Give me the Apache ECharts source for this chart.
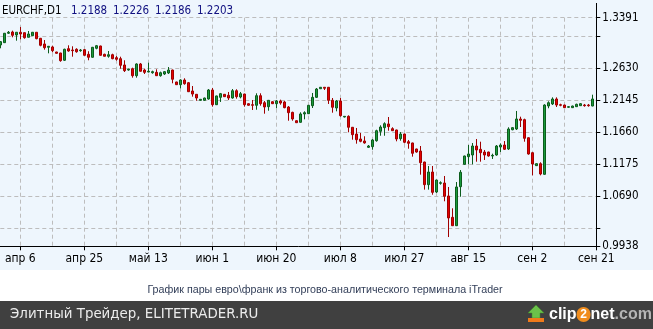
<!DOCTYPE html>
<html><head><meta charset="utf-8">
<script src="https://cdn.jsdelivr.net/npm/echarts@6/dist/echarts.min.js"></script>
<style>html,body{margin:0;padding:0;background:#fff}#c{width:653px;height:329px}</style>
</head><body><div id="c"></div>
<script>
// ---- DATA (EURCHF, D1, 2011) ----
const dates = [
'2011-03-31','2011-04-01','2011-04-03','2011-04-04','2011-04-05','2011-04-06','2011-04-07','2011-04-08','2011-04-10','2011-04-11',
'2011-04-12','2011-04-13','2011-04-14','2011-04-15','2011-04-17','2011-04-18','2011-04-19','2011-04-20','2011-04-21','2011-04-22',
'2011-04-24','2011-04-25','2011-04-26','2011-04-27','2011-04-28','2011-04-29','2011-05-01','2011-05-02','2011-05-03','2011-05-04',
'2011-05-05','2011-05-06','2011-05-08','2011-05-09','2011-05-10','2011-05-11','2011-05-12','2011-05-13','2011-05-15','2011-05-16',
'2011-05-17','2011-05-18','2011-05-19','2011-05-20','2011-05-22','2011-05-23','2011-05-24','2011-05-25','2011-05-26','2011-05-27',
'2011-05-29','2011-05-30','2011-05-31','2011-06-01','2011-06-02','2011-06-03','2011-06-05','2011-06-06','2011-06-07','2011-06-08',
'2011-06-09','2011-06-10','2011-06-12','2011-06-13','2011-06-14','2011-06-15','2011-06-16','2011-06-17','2011-06-19','2011-06-20',
'2011-06-21','2011-06-22','2011-06-23','2011-06-24','2011-06-26','2011-06-27','2011-06-28','2011-06-29','2011-06-30','2011-07-01',
'2011-07-03','2011-07-04','2011-07-05','2011-07-06','2011-07-07','2011-07-08','2011-07-10','2011-07-11','2011-07-12','2011-07-13',
'2011-07-14','2011-07-15','2011-07-17','2011-07-18','2011-07-19','2011-07-20','2011-07-21','2011-07-22','2011-07-24','2011-07-25',
'2011-07-26','2011-07-27','2011-07-28','2011-07-29','2011-07-31','2011-08-01','2011-08-02','2011-08-03','2011-08-04','2011-08-05',
'2011-08-07','2011-08-08','2011-08-09','2011-08-10','2011-08-11','2011-08-12','2011-08-14','2011-08-15','2011-08-16','2011-08-17',
'2011-08-18','2011-08-19','2011-08-21','2011-08-22','2011-08-23','2011-08-24','2011-08-25','2011-08-26','2011-08-28','2011-08-29',
'2011-08-30','2011-08-31','2011-09-01','2011-09-02','2011-09-04','2011-09-05','2011-09-06','2011-09-07','2011-09-08','2011-09-09',
'2011-09-11','2011-09-12','2011-09-13','2011-09-14','2011-09-15','2011-09-16','2011-09-18','2011-09-19','2011-09-20','2011-09-21'];

const open = [
1.2979,1.3014,1.3156,1.3175,1.3130,1.3171,1.3165,1.3095,1.3119,1.3171,
1.3080,1.2994,1.2944,1.2949,1.2873,1.2858,1.2748,1.2923,1.2903,1.2914,
1.2893,1.2908,1.2838,1.2793,1.2929,1.2964,1.2838,1.2808,1.2832,1.2787,
1.2772,1.2677,1.2601,1.2621,1.2515,1.2692,1.2601,1.2571,1.2560,1.2566,
1.2515,1.2541,1.2556,1.2601,1.2420,1.2379,1.2450,1.2409,1.2284,1.2234,
1.2143,1.2143,1.2163,1.2299,1.2077,1.2188,1.2234,1.2219,1.2178,1.2288,
1.2193,1.2238,1.2092,1.2077,1.2068,1.2213,1.2107,1.2047,1.2122,1.2092,
1.2133,1.2118,1.2042,1.1961,1.1835,1.1811,1.1937,1.1941,1.2062,1.2188,
1.2318,1.2340,1.2340,1.2143,1.2027,1.2133,1.1891,1.1901,1.1736,1.1634,
1.1559,1.1529,1.1433,1.1443,1.1533,1.1675,1.1730,1.1786,1.1715,1.1695,
1.1564,1.1634,1.1518,1.1499,1.1408,1.1377,1.1211,1.0869,1.1060,1.0758,
1.0889,1.0894,1.0698,1.0376,1.0249,1.0838,1.1176,1.1292,1.1317,1.1453,
1.1403,1.1362,1.1362,1.1302,1.1317,1.1438,1.1468,1.1408,1.1699,1.1710,
1.1861,1.1851,1.1578,1.1352,1.1156,1.1186,1.1025,1.2057,1.2088,1.2163,
1.2077,1.2072,1.2038,1.2032,1.2047,1.2062,1.2072,1.2072,1.2057];

const close = [
1.3029,1.3156,1.3171,1.3125,1.3171,1.3145,1.3089,1.3145,1.3171,1.3074,
1.2974,1.2938,1.2959,1.2893,1.2853,1.2742,1.2914,1.2888,1.2893,1.2877,
1.2903,1.2823,1.2793,1.2944,1.2968,1.2823,1.2808,1.2832,1.2772,1.2763,
1.2672,1.2591,1.2612,1.2515,1.2692,1.2582,1.2566,1.2582,1.2576,1.2515,
1.2560,1.2576,1.2601,1.2461,1.2379,1.2450,1.2394,1.2273,1.2238,1.2178,
1.2158,1.2178,1.2299,1.2077,1.2209,1.2243,1.2198,1.2178,1.2288,1.2198,
1.2243,1.2077,1.2068,1.2068,1.2213,1.2092,1.2042,1.2143,1.2092,1.2133,
1.2102,1.2032,1.1956,1.1861,1.1805,1.1937,1.1956,1.2068,1.2188,1.2314,
1.2340,1.2325,1.2143,1.2038,1.2133,1.1911,1.1901,1.1736,1.1624,1.1548,
1.1524,1.1499,1.1453,1.1544,1.1684,1.1740,1.1790,1.1745,1.1684,1.1559,
1.1634,1.1509,1.1494,1.1343,1.1362,1.1201,1.0869,1.1060,1.0753,1.0939,
1.0899,1.0693,1.0366,1.0249,1.0834,1.1056,1.1302,1.1332,1.1453,1.1393,
1.1352,1.1317,1.1302,1.1312,1.1453,1.1468,1.1403,1.1710,1.1730,1.1861,
1.1841,1.1569,1.1332,1.1181,1.1186,1.1030,1.2072,1.2107,1.2163,1.2072,
1.2068,1.2032,1.2047,1.2057,1.2083,1.2092,1.2062,1.2062,1.2163];

const high = [
1.3039,1.3160,1.3190,1.3195,1.3175,1.3251,1.3166,1.3190,1.3175,1.3171,
1.3085,1.3054,1.2964,1.2968,1.2876,1.2860,1.2923,1.2974,1.2959,1.2929,
1.2918,1.2918,1.2884,1.2949,1.2979,1.2968,1.2847,1.2888,1.2847,1.2812,
1.2802,1.2748,1.2621,1.2636,1.2702,1.2707,1.2621,1.2711,1.2591,1.2612,
1.2576,1.2586,1.2646,1.2606,1.2424,1.2461,1.2476,1.2420,1.2359,1.2238,
1.2163,1.2183,1.2314,1.2329,1.2213,1.2254,1.2238,1.2269,1.2314,1.2310,
1.2269,1.2243,1.2098,1.2148,1.2249,1.2249,1.2133,1.2148,1.2128,1.2148,
1.2153,1.2137,1.2057,1.1971,1.1840,1.1962,1.1977,1.2072,1.2254,1.2329,
1.2344,1.2344,1.2344,1.2178,1.2148,1.2178,1.1906,1.1916,1.1740,1.1725,
1.1649,1.1600,1.1468,1.1559,1.1699,1.1766,1.1811,1.1891,1.1736,1.1699,
1.1664,1.1639,1.1544,1.1503,1.1412,1.1453,1.1216,1.1151,1.1151,1.0944,
1.0919,1.1000,1.0834,1.0512,1.0909,1.1090,1.1307,1.1468,1.1498,1.1559,
1.1518,1.1393,1.1367,1.1337,1.1468,1.1493,1.1528,1.1736,1.1736,1.1982,
1.1896,1.1866,1.1584,1.1358,1.1191,1.1207,1.2083,1.2128,1.2188,1.2188,
1.2092,1.2077,1.2053,1.2062,1.2092,1.2102,1.2088,1.2088,1.2228];

const low = [
1.2929,1.3009,1.3145,1.3095,1.3044,1.3065,1.3074,1.3095,1.3114,1.3065,
1.2959,1.2908,1.2853,1.2868,1.2847,1.2726,1.2737,1.2877,1.2802,1.2862,
1.2877,1.2817,1.2748,1.2787,1.2914,1.2817,1.2808,1.2787,1.2763,1.2742,
1.2621,1.2571,1.2591,1.2485,1.2485,1.2576,1.2541,1.2566,1.2545,1.2510,
1.2500,1.2526,1.2541,1.2400,1.2375,1.2324,1.2379,1.2269,1.2198,1.2137,
1.2137,1.2137,1.2153,1.2047,1.2072,1.2118,1.2193,1.2148,1.2168,1.2168,
1.2173,1.2047,1.2062,1.1997,1.2001,1.2062,1.1941,1.1986,1.2087,1.2023,
1.2077,1.2023,1.1835,1.1835,1.1801,1.1805,1.1856,1.1937,1.2027,1.2178,
1.2314,1.2299,1.2088,1.1956,1.1977,1.1896,1.1884,1.1660,1.1548,1.1488,
1.1509,1.1488,1.1423,1.1397,1.1518,1.1608,1.1608,1.1684,1.1680,1.1524,
1.1533,1.1494,1.1412,1.1292,1.1352,1.1020,1.0794,1.0794,1.0717,1.0743,
1.0869,1.0618,1.0078,1.0244,1.0244,1.0687,1.1171,1.1176,1.1176,1.1216,
1.1216,1.1242,1.1292,1.1257,1.1307,1.1362,1.1393,1.1393,1.1690,1.1695,
1.1740,1.1518,1.1322,1.1010,1.1151,1.1010,1.1020,1.2023,1.2072,1.2042,
1.2053,1.2027,1.2032,1.2027,1.2042,1.2057,1.2047,1.2047,1.2053];

const priceLabels = [1.3391, 1.2630, 1.2145, 1.1660, 1.1175, 1.0690, 0.9938];
const priceTicks  = [1.3391, 1.3115, 1.2630, 1.2145, 1.1660, 1.1175, 1.0690, 1.0205, 0.9938];
const monthNames = ['янв','фев','мар','апр','май','июн','июл','авг','сен','окт','ноя','дек'];
const headerSymbol = 'EURCHF,D1';
const headerValues = ['1.2188','1.2226','1.2186','1.2203'];
const captionText = 'График пары евро\\франк из торгово-аналитического терминала iTrader';
const footerText = 'Элитный Трейдер, ELITETRADER.RU';

// ---- CHART ----
const FONT = "'Liberation Sans Narrow','DejaVu Sans Condensed',sans-serif";
const candles = dates.map((d, i) => open[i] == null ? '-' : [open[i], close[i], low[i], high[i]]);
const labelEvery = (i) => (i - 5) % 16 === 0;
const gridEvery = (i) => (i - 5) % 8 === 0 && i < dates.length - 1;
const fmtDate = (v) => { const p = v.split('-'); return monthNames[+p[1] - 1] + ' ' + (+p[2]); };

const chart = echarts.init(document.getElementById('c'), null, {renderer: 'canvas'});
const headerX = [71, 113, 155, 197];
chart.setOption({
  backgroundColor: '#ffffff',
  animation: false,
  grid: {left: 0.3, right: 56.7, top: 17.7, bottom: 82.7, containLabel: false},
  xAxis: {
    type: 'category', data: dates, boundaryGap: false,
    axisLine: {show: true, lineStyle: {color: '#000', width: 1}},
    axisTick: {show: true, interval: labelEvery, length: 4, lineStyle: {color: '#000'}},
    axisLabel: {interval: labelEvery, formatter: fmtDate, fontFamily: FONT, fontSize: 12, color: '#000', margin: 7},
    splitLine: {show: true, interval: gridEvery, lineStyle: {color: '#bdbdbd', type: [4, 3], width: 1}}
  },
  yAxis: {
    type: 'value', position: 'right', min: priceLabels[priceLabels.length - 1], max: priceLabels[0],
    axisLine: {show: true, lineStyle: {color: '#000'}},
    axisTick: {show: true, length: 4, customValues: priceTicks, lineStyle: {color: '#000'}},
    axisLabel: {customValues: priceLabels, formatter: (v) => v.toFixed(4), fontFamily: FONT, fontSize: 11.5, color: '#000', margin: 6},
    splitLine: {show: true, lineStyle: {color: '#bdbdbd', type: [4, 3], width: 1}}
  },
  series: [{
    type: 'candlestick', data: candles, barWidth: 3,
    itemStyle: {color: '#1a9a3c', color0: '#e30000', borderColor: '#0c5c1c', borderColor0: '#a00000', borderWidth: 1}
  }],
  graphic: [
    {type: 'rect', z: -10, silent: true, shape: {x: 0, y: 0, width: 653, height: 270}, style: {fill: '#eef6fd'}},
    {type: 'rect', z: -10, silent: true, shape: {x: 0, y: 301, width: 653, height: 28}, style: {fill: '#404040'}},
    {type: 'line', silent: true, shape: {x1: 596.5, y1: 3, x2: 596.5, y2: 18}, style: {stroke: '#000', lineWidth: 1}},
    {type: 'text', silent: true, x: 2, y: 11.5, style: {text: headerSymbol, fontFamily: FONT, fontSize: 11.5, fill: '#000', verticalAlign: 'middle'}},
    ...headerValues.map((t, i) => ({type: 'text', silent: true, x: headerX[i], y: 11.5,
      style: {text: t, fontFamily: FONT, fontSize: 11.5, fill: '#101080', verticalAlign: 'middle'}})),
    {type: 'text', silent: true, x: 325, y: 290, style: {text: captionText, fontFamily: "'Liberation Sans',sans-serif", fontSize: 10.7, fill: '#34405a', align: 'center', verticalAlign: 'middle'}},
    {type: 'text', silent: true, x: 10, y: 315, style: {text: footerText, fontFamily: "'DejaVu Sans',sans-serif", fontSize: 13.4, fill: '#ececec', verticalAlign: 'middle'}},
    // clip2net logo
    {type: 'polygon', silent: true, shape: {points: [[536, 305], [544, 313], [540, 313], [540, 318], [532, 318], [532, 313], [528, 313]]}, style: {fill: '#6cc24a', stroke: '#3d8a2a', lineWidth: 0.5}},
    {type: 'rect', silent: true, shape: {x: 528, y: 318, width: 16, height: 4}, style: {fill: '#f07a1a'}},
    {type: 'text', silent: true, x: 549, y: 314.5, style: {
      rich: {
        a: {fontFamily: "'Liberation Sans',sans-serif", fontWeight: 'bold', fontSize: 16, fill: '#ffffff'},
        b: {fontFamily: "'Liberation Sans',sans-serif", fontWeight: 'bold', fontSize: 12, fill: '#ffffff', backgroundColor: '#f08c1c', borderRadius: 8, width: 14, height: 15, align: 'center'},
        c: {fontFamily: "'Liberation Sans',sans-serif", fontWeight: 'bold', fontSize: 16, fill: '#b5b5b5'}
      },
      text: '{a|clip}{b|2}{a|net}{c|.com}', verticalAlign: 'middle'}}
  ]
});
</script>
</body></html>
